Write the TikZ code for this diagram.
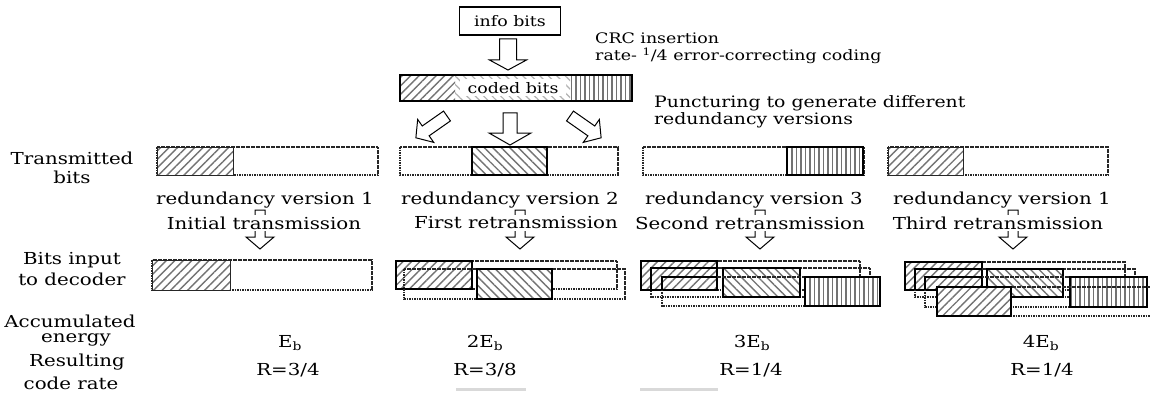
\documentclass[tikz,border=0pt]{standalone}
\usepackage{fontspec}
\setmainfont{DejaVu Serif}[FakeStretch=1.2]
\usetikzlibrary{patterns.meta}
\tikzset{
  x=1pt, y=-1pt,
  lab/.style={font=\fontsize{16.5}{19}\selectfont, inner sep=0.5pt},
  wlab/.style={lab, fill=white, inner sep=1.5pt},
  smalltxt/.style={font=\fontsize{14.5}{17}\selectfont, inner sep=0pt},
  punc/.style={font=\fontsize{15.7}{18}\selectfont, inner sep=0pt, anchor=west},
  dotbox/.style={draw=black!85, line width=1.3pt, dash pattern=on 1.6pt off 0.9pt},
  thinseg/.style={draw=black!85, line width=1pt},
  thickseg/.style={draw=black, line width=1.9pt},
  hne/.style={pattern={Lines[angle=45,distance=6pt,line width=1.4pt]}, pattern color=black!55},
  hnw/.style={pattern={Lines[angle=-45,distance=6pt,line width=1.4pt]}, pattern color=black!55},
  hnwlight/.style={pattern={Lines[angle=-45,distance=6pt,line width=1.2pt]}, pattern color=black!30},
  hv/.style={pattern={Lines[angle=90,distance=4.5pt,line width=1.4pt]}, pattern color=black!55},
  blockarr/.style={draw=black, line width=1pt, fill=white, line join=miter},
}
\newcommand\dbox[4]{\draw[dotbox] (#1,#2) rectangle ++(#3,#4);}
\newcommand\seg[6]{\fill[white] (#1,#2) rectangle ++(#3,#4);
  \path[#5] (#1,#2) rectangle ++(#3,#4);
  \draw[#6] (#1,#2) rectangle ++(#3,#4);}
% tail x, tail y, angle, length, shaft half width, head half width, head length
\newcommand\blockarrow[7]{\draw[blockarr, shift={(#1,#2)}, rotate=#3]
  (0,#5) -- (#4-#7,#5) -- (#4-#7,#6) -- (#4,0) -- (#4-#7,-#6) -- (#4-#7,-#5) -- (0,-#5) -- cycle;}
\begin{document}
\begin{tikzpicture}
\useasboundingbox (0,0) rectangle (1150,393);
\fill[white] (0,0) rectangle (1150,393);

% ---------- top: info bits and coded bits ----------
\node[draw, line width=1.1pt, minimum width=101pt, minimum height=28pt, smalltxt] (info) at (510,21) {info bits};
\blockarrow{508}{39}{-90}{31}{8.5}{18.5}{10}

\fill[white] (400,75) rectangle (632,101);
\path[hne] (400,75) rectangle (455,101);
\path[hnwlight] (455,75) rectangle (570,101);
\path[hv] (570,75) rectangle (632,101);
\node[smalltxt, fill=white, minimum width=106pt, minimum height=17pt] (coded) at (513,88) {coded bits};
\draw[line width=1.2pt] (400,75) rectangle (632,101);

\node[smalltxt, anchor=west] (crc1) at (595,38) {CRC insertion};
\node[smalltxt, anchor=west] (crc2) at (595,56) {rate- \textsuperscript{1}/4 error-correcting coding};

\node[punc] (punc1) at (654,103) {Puncturing to generate different};
\node[punc] (punc2) at (654,120) {redundancy versions};

\blockarrow{447}{116}{-145}{38}{6}{14}{12}
\blockarrow{510}{113}{-90}{32}{7}{21}{12}
\blockarrow{570}{116}{-35}{38}{6}{14}{12}

% ---------- row labels ----------
\node[lab] (l1a) at (72,158) {Transmitted};
\node[lab] (l1b) at (72,177) {bits};
\node[lab] (l2a) at (72,260) {Bits input};
\node[lab] (l2b) at (72,279) {to decoder};
\node[lab] (l3a) at (70,321) {Accumulated};
\node[lab] (l3b) at (76,340) {energy};
\node[lab] (l4a) at (77,362) {Resulting};
\node[lab] (l4b) at (71,383) {code rate};

% ---------- transmitted bits ----------
\dbox{157}{147}{221}{28}
\seg{157}{147}{76}{28}{hne}{thinseg}
\dbox{400}{147}{218}{28}
\seg{472}{147}{75}{28}{hnw}{thickseg}
\dbox{643}{147}{221}{28}
\seg{787}{147}{76}{28}{hv}{thickseg}
\dbox{888}{147}{220}{28}
\seg{888}{147}{75}{28}{hne}{thinseg}

\node[lab] (rv1) at (265,200) {redundancy version 1};
\node[lab] (rv2) at (510,200) {redundancy version 2};
\node[lab] (rv3) at (754,200) {redundancy version 3};
\node[lab] (rv4) at (1002,200) {redundancy version 1};

\blockarrow{260}{210}{-90}{39}{5}{14}{12}
\blockarrow{520}{210}{-90}{39}{5}{14}{12}
\blockarrow{760}{210}{-90}{39}{5}{14}{12}
\blockarrow{1013}{210}{-90}{39}{5}{14}{12}

\node[wlab] (tx1) at (264,223) {Initial transmission};
\node[wlab] (tx2) at (516,223) {First retransmission};
\node[wlab] (tx3) at (750,223) {Second retransmission};
\node[wlab] (tx4) at (998,223) {Third retransmission};

% ---------- bits input to decoder ----------
% column 1
\dbox{152}{260}{220}{30}
\seg{152}{260}{78}{30}{hne}{thinseg}
% column 2
\dbox{396}{261}{221}{28}
\seg{396}{261}{76}{28}{hne}{thickseg}
\dbox{404}{269}{221}{30}
\seg{477}{269}{75}{30}{hnw}{thickseg}
% column 3
\dbox{641}{261}{219}{29}
\seg{641}{261}{76}{29}{hne}{thickseg}
\dbox{651}{268}{219}{29}
\draw[thickseg] (651,290) -- (651,268) -- (717,268);
\seg{723}{268}{77}{29}{hnw}{thickseg}
\dbox{662}{277}{218}{29}
\draw[thickseg] (662,290) -- (662,277) -- (717,277);
\seg{805}{277}{75}{29}{hv}{thickseg}
% column 4
\dbox{905}{262}{220}{28}
\seg{905}{262}{77}{28}{hne}{thickseg}
\dbox{915}{269}{220}{28}
\draw[thickseg] (915,290) -- (915,269) -- (982,269);
\seg{987}{269}{76}{28}{hnw}{thickseg}
\dbox{925}{277}{222}{30}
\draw[thickseg] (925,290) -- (925,277) -- (982,277);
\seg{1070}{277}{77}{30}{hv}{thickseg}
\dbox{937}{287}{218}{29}
\seg{937}{287}{74}{29}{hne}{thickseg}

% ---------- energy and rate ----------
\node[lab] (e1) at (290,343) {E\textsubscript{b}};
\node[lab] (e2) at (485,343) {2E\textsubscript{b}};
\node[lab] (e3) at (752,343) {3E\textsubscript{b}};
\node[lab] (e4) at (1041,343) {4E\textsubscript{b}};
\node[lab] (r1) at (288,370) {R=3/4};
\node[lab] (r2) at (485,370) {R=3/8};
\node[lab] (r3) at (751,370) {R=1/4};
\node[lab] (r4) at (1042,370) {R=1/4};

\fill[black!15] (456,388) rectangle (526,391);
\fill[black!15] (640,388) rectangle (718,391);
\end{tikzpicture}
\end{document}
